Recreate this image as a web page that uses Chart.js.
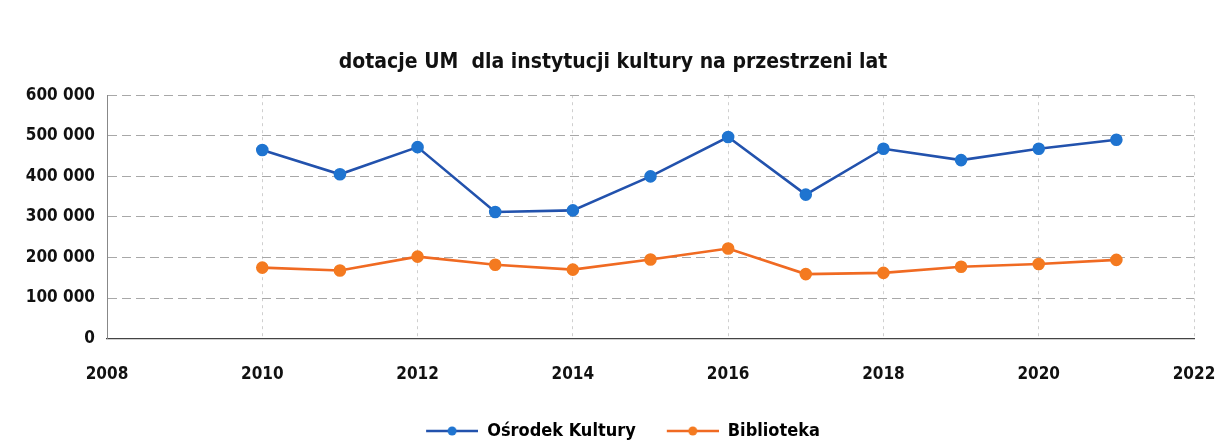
<!DOCTYPE html>
<html>
<head>
<meta charset="utf-8">
<script src="https://cdn.jsdelivr.net/npm/chart.js@4"></script>
<style>
html,body{margin:0;padding:0;background:#fff;}
#wrap{position:relative;width:1218px;height:441px;}
</style>
</head>
<body>
<div id="wrap"><canvas id="c" width="1218" height="441"></canvas></div>
<script>
const years = [2010, 2011, 2012, 2013, 2014, 2015, 2016, 2017, 2018, 2019, 2020, 2021];
const osrodekKultury = [465000, 405000, 472000, 312000, 316000, 400000, 497000, 355000, 468000, 440000, 468000, 490000];
const biblioteka = [175000, 168000, 202000, 182000, 170000, 195000, 222000, 159000, 162000, 177000, 184000, 194000];
const xTicks = [2008, 2010, 2012, 2014, 2016, 2018, 2020, 2022];
const yTicks = [0, 100000, 200000, 300000, 400000, 500000, 600000];
const seriesNames = ['Ośrodek Kultury', 'Biblioteka'];
const titleText = 'dotacje UM  dla instytucji kultury na przestrzeni lat';

const FONT = "'DejaVu Sans Condensed', 'Liberation Sans Narrow', 'Liberation Sans', sans-serif";
const blueLine = '#2252ad', bluePt = '#1f74d0';
const orangeLine = '#f06a22', orangePt = '#f47a20';

function legendIcon(line, pt) {
  const cv = document.createElement('canvas');
  cv.width = 72; cv.height = 12;
  const g = cv.getContext('2d');
  g.strokeStyle = line; g.lineWidth = 2.5;
  g.beginPath(); g.moveTo(20, 6); g.lineTo(72, 6); g.stroke();
  g.fillStyle = pt; g.beginPath(); g.arc(46, 6, 4.5, 0, Math.PI * 2); g.fill();
  return cv;
}

const ds = (name, vals, line, pt) => ({
  label: name,
  data: years.map((y, i) => ({x: y, y: vals[i]})),
  borderColor: line,
  backgroundColor: pt,
  pointBackgroundColor: pt,
  pointBorderColor: pt,
  pointRadius: 5,
  pointStyle: 'circle',
  borderWidth: 2.6,
  tension: 0,
  legendIcon: legendIcon(line, pt)
});

const fmt = v => String(v).replace(/\B(?=(\d{3})+(?!\d))/g, '\u00a0');

const legendSize = {
  id: 'legendSize',
  beforeInit(chart) {
    const lg = chart.legend;
    if (lg && !lg._patched) {
      const orig = lg.fit.bind(lg);
      lg.fit = function () { orig(); this.height = 30; };
      lg._patched = true;
    }
  }
};

const chart = new Chart(document.getElementById('c'), {
  type: 'line',
  data: {
    datasets: [
      ds(seriesNames[0], osrodekKultury, blueLine, bluePt),
      ds(seriesNames[1], biblioteka, orangeLine, orangePt)
    ]
  },
  options: {
    responsive: false,
    animation: false,
    devicePixelRatio: 1,
    layout: {padding: {left: 8, right: 0, top: 0, bottom: 0}},
    plugins: {
      title: {
        display: true,
        text: titleText,
        color: '#111',
        font: {family: FONT, size: 21, weight: 'bold'},
        padding: {top: 50, bottom: 20}
      },
      legend: {
        position: 'bottom',
        labels: {
          usePointStyle: true,
          pointStyleWidth: 72,
          color: '#111',
          font: {family: FONT, size: 18, weight: 'bold'},
          padding: 11,
          generateLabels: chart => chart.data.datasets.map((d, i) => ({
            text: d.label,
            fillStyle: d.backgroundColor,
            strokeStyle: d.borderColor,
            lineWidth: 0,
            pointStyle: d.legendIcon,
            datasetIndex: i,
            hidden: false
          }))
        }
      },
      tooltip: {enabled: false}
    },
    scales: {
      x: {
        type: 'linear',
        min: xTicks[0],
        max: xTicks[xTicks.length - 1],
        afterBuildTicks: s => { s.ticks = xTicks.map(v => ({value: v})); },
        afterFit: s => { s.paddingRight = 24; },
        ticks: {
          color: '#111',
          font: {family: FONT, size: 17, weight: 'bold'},
          padding: 26,
          maxRotation: 0,
          callback: v => String(v)
        },
        grid: {color: '#cfcfcf', drawTicks: false, lineWidth: 1},
        border: {display: true, color: '#444', width: 1.3, dash: [3, 4]}
      },
      y: {
        min: 0,
        max: 600000,
        afterBuildTicks: s => { s.ticks = yTicks.map(v => ({value: v})); },
        afterFit: s => { s.width = 99; },
        ticks: {
          color: '#111',
          font: {family: FONT, size: 17, weight: 'bold'},
          padding: 12,
          callback: v => fmt(v)
        },
        grid: {color: '#a8a8a8', drawTicks: false, lineWidth: 1},
        border: {display: true, color: '#888', width: 1, dash: [9, 5]}
      }
    }
  },
  plugins: [legendSize]
});
</script>
</body>
</html>
